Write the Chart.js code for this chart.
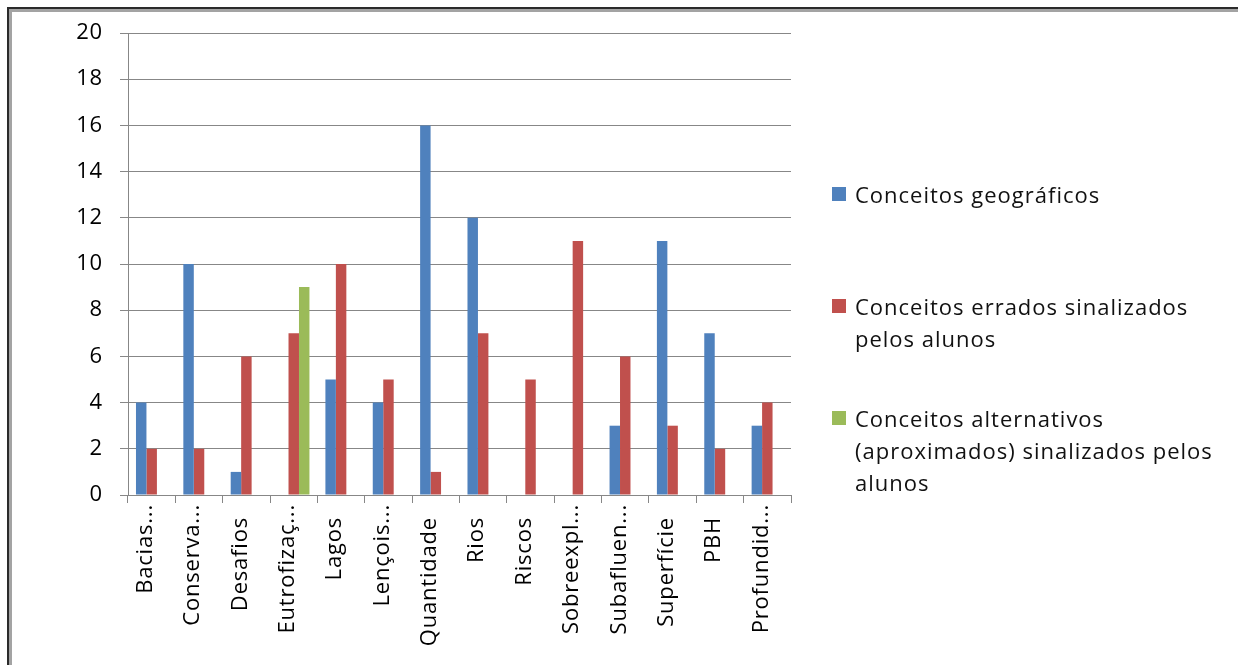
<!DOCTYPE html>
<html>
<head>
<meta charset="utf-8">
<title>Conceitos</title>
<script src="https://cdn.jsdelivr.net/npm/chart.js@4"></script>
<style>
    html, body { margin: 0; padding: 0; overflow: hidden; background: #fff; }
    .page { position: relative; width: 1238px; height: 665px; }
    canvas { position: absolute; left: 0; top: 0; }

    /* page frame: dark rule with a grey rule inside */
    .frame { position: absolute; left: 7px; top: 7px; right: -20px; bottom: -20px;
             border-left: 2px solid #2b2b2b; border-top: 2px solid #2b2b2b; }
    .frame-inner { position: absolute; left: 0; top: 0; right: 0; bottom: 0;
             border-left: 3px solid #a3a3a3; border-top: 3px solid #a3a3a3; }

    .legend { position: absolute; left: 832px; top: 178px; font-family: "Open Sans", sans-serif;
              font-size: 22px; line-height: 32px; letter-spacing: 1px; color: #111; }
    .legend .item { position: relative; padding-left: 23px; white-space: nowrap; }
    .legend .box { position: absolute; left: 0; top: 9px; width: 14px; height: 14px; }
</style>
</head>
<body>
<div class="page">
    <div class="frame"><div class="frame-inner"></div></div>
    <canvas id="myChart" width="1238" height="665"></canvas>
    <div class="legend" id="legend"></div>
</div>

<script>
// categories and counts
const categories = ['Bacias...', 'Conserva...', 'Desafios', 'Eutrofizaç...', 'Lagos', 'Lençois...',
    'Quantidade', 'Rios', 'Riscos', 'Sobreexpl...', 'Subafluen...', 'Superfície', 'PBH', 'Profundid...'];

const geograficos  = [4, 10, 1, 0, 5, 4, 16, 12, 0, 0, 3, 11, 7, 3];
const errados      = [2, 2, 6, 7, 10, 5, 1, 7, 5, 11, 6, 3, 2, 4];
const alternativos = [0, 0, 0, 9, 0, 0, 0, 0, 0, 0, 0, 0, 0, 0];

// legend text, one entry per line
const seriesLines = [
    ['Conceitos geográficos'],
    ['Conceitos errados sinalizados', 'pelos alunos'],
    ['Conceitos alternativos', '(aproximados) sinalizados pelos', 'alunos']
];
const seriesColors = ['#4f81bd', '#c0504d', '#9bbb59'];
const legendGaps = [0, 80, 48];

const yMin = 0;
const yMax = 20;
const yStep = 2;

const gridColor = '#878787';
const font = { family: '"Open Sans", sans-serif', size: 22 };

// wider text on the canvas (set again after every canvas reset)
const spacing = {
    id: 'spacing',
    beforeLayout: (chart) => { chart.ctx.letterSpacing = '0.8px'; },
    beforeDraw: (chart) => { chart.ctx.letterSpacing = '0.8px'; }
};

const ctx = document.getElementById('myChart').getContext('2d');

const myChart = new Chart(ctx, {
    type: 'bar',
    plugins: [spacing],
    data: {
        labels: categories,
        datasets: [geograficos, errados, alternativos].map((values, i) => ({
            label: seriesLines[i].join(' '),
            data: values,
            backgroundColor: seriesColors[i],
            borderWidth: 0,
            categoryPercentage: 0.663,
            barPercentage: 1.0
        }))
    },
    options: {
        responsive: false,
        animation: false,
        devicePixelRatio: 1,
        layout: { padding: { left: 0, top: 33, right: 447, bottom: 0 } },
        plugins: {
            legend: { display: false },
            tooltip: { enabled: false }
        },
        scales: {
            x: {
                afterFit: (scale) => { scale.height = 170; },
                border: { color: gridColor, width: 1 },
                grid: { color: gridColor, drawOnChartArea: false, tickLength: 8, offset: true },
                ticks: {
                    color: '#000',
                    font: font,
                    autoSkip: false,
                    minRotation: 90,
                    maxRotation: 90,
                    padding: 1,
                    labelOffset: -6,
                    // full words sit a little lower than the cut ones
                    callback: function(value) {
                        const text = this.getLabelForValue(value);
                        return text.endsWith('...') ? text : text + '  ';
                    }
                }
            },
            y: {
                min: yMin,
                max: yMax,
                afterFit: (scale) => { scale.width = 128; },
                border: { color: gridColor, width: 1 },
                grid: { color: gridColor, tickLength: 8 },
                ticks: { stepSize: yStep, color: '#000', font: font, padding: 17 }
            }
        }
    }
});

// legend
const legend = document.getElementById('legend');
seriesLines.forEach((lines, i) => {
    const item = document.createElement('div');
    item.className = 'item';
    item.style.marginTop = legendGaps[i] + 'px';
    item.innerHTML = '<span class="box" style="background:' + seriesColors[i] + '"></span>' + lines.join('<br>');
    legend.appendChild(item);
});
</script>
</body>
</html>
